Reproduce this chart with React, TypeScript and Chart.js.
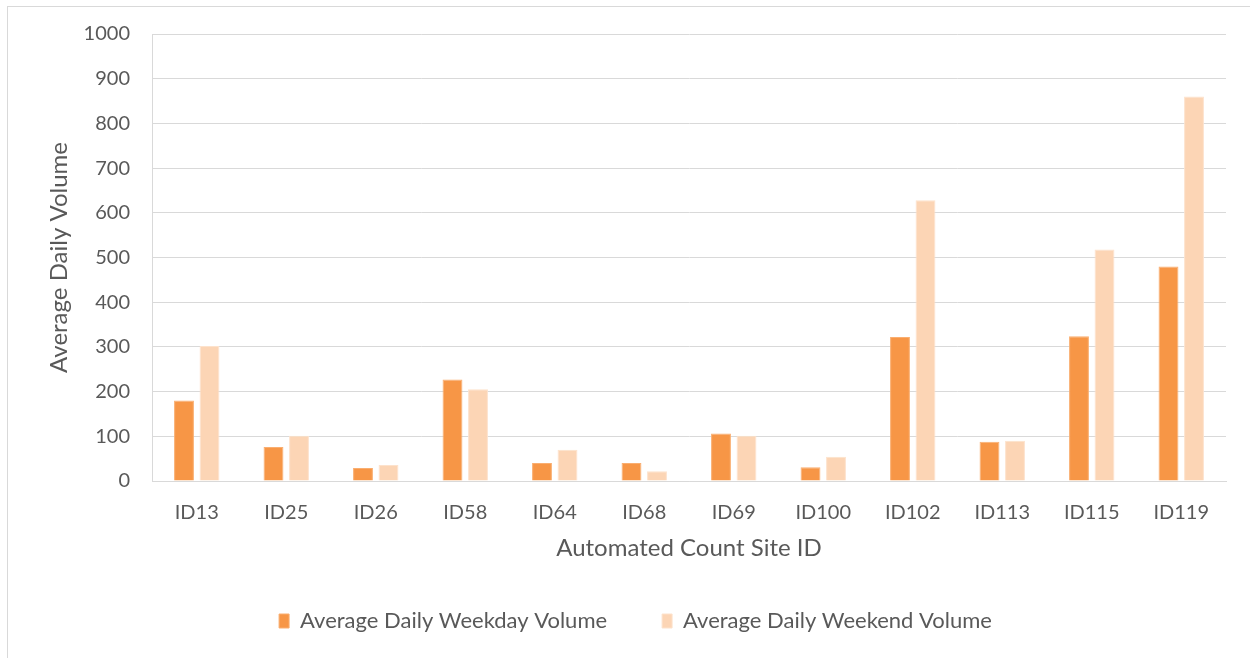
import React, { useEffect, useRef } from "react";
import { Chart, registerables } from "chart.js";

Chart.register(...registerables);

const categories = ["ID13", "ID25", "ID26", "ID58", "ID64", "ID68", "ID69", "ID100", "ID102", "ID113", "ID115", "ID119"];
const weekdayValues = [180, 76, 29, 227, 40, 40, 106, 31, 322, 88, 324, 480];
const weekendValues = [302, 101, 36, 205, 70, 22, 101, 54, 628, 90, 518, 860];
const seriesNames = ["Average Daily Weekday Volume", "Average Daily Weekend Volume"];
const yTitle = "Average Daily Volume";
const xTitle = "Automated Count Site ID";

const FONT = "Lato, 'Open Sans', sans-serif";
const TEXT = "#595959";
const GRID = "#d9d9d9";

export default function App() {
  const ref = useRef<HTMLCanvasElement | null>(null);
  useEffect(() => {
    document.body.style.margin = "0";
    const chart = new Chart(ref.current!, {
      type: "bar",
      data: {
        labels: categories,
        datasets: [
          {
            label: seriesNames[0],
            data: weekdayValues,
            backgroundColor: "#F79646",
            borderColor: "#FAAE70",
            borderWidth: 1,
            barPercentage: 0.78,
            categoryPercentage: 0.57,
          },
          {
            label: seriesNames[1],
            data: weekendValues,
            backgroundColor: "#FCD5B5",
            borderColor: "#FDE2CC",
            borderWidth: 1,
            barPercentage: 0.78,
            categoryPercentage: 0.57,
          },
        ],
      },
      options: {
        animation: false,
        responsive: false,
        maintainAspectRatio: false,
        layout: { padding: { top: 33, right: 24, bottom: 16, left: 45 } },
        plugins: {
          tooltip: { enabled: false },
          legend: {
            position: "bottom",
            maxHeight: 104,
            labels: {
              color: TEXT,
              font: { family: FONT, size: 22 },
              boxWidth: 10,
              boxHeight: 14,
              padding: 55,
            },
          },
        },
        scales: {
          x: {
            grid: { display: false, drawTicks: false },
            border: { color: GRID, width: 1 },
            ticks: { color: TEXT, font: { family: FONT, size: 20 }, padding: 20, maxRotation: 0 },
            title: { display: true, text: xTitle, color: TEXT, font: { family: FONT, size: 24 }, padding: { top: 0, bottom: -8 } },
            afterFit: (s: any) => { s.height = 74; },
          },
          y: {
            min: 0,
            max: 1000,
            grid: { color: GRID, lineWidth: 1, drawTicks: false },
            border: { color: GRID, width: 1 },
            ticks: {
              stepSize: 100,
              color: TEXT,
              font: { family: FONT, size: 20 },
              padding: 22,
              callback: (v: any) => String(v),
            },
            title: { display: true, text: yTitle, color: TEXT, font: { family: FONT, size: 24 }, padding: { top: 0, bottom: 10 } },
            afterFit: (s: any) => { s.width = 107; },
          },
        },
      },
    });
    return () => chart.destroy();
  }, []);
  return (
    <div style={{ position: "absolute", left: 0, top: 0, width: 1250, height: 658, overflow: "hidden", background: "#fff" }}>
      <div style={{ position: "absolute", left: 7, top: 6, width: 1260, height: 670, border: "1px solid #d9d9d9", boxSizing: "border-box" }} />
      <canvas ref={ref} width={1250} height={658} style={{ position: "absolute", left: 0, top: 0 }} />
    </div>
  );
}
